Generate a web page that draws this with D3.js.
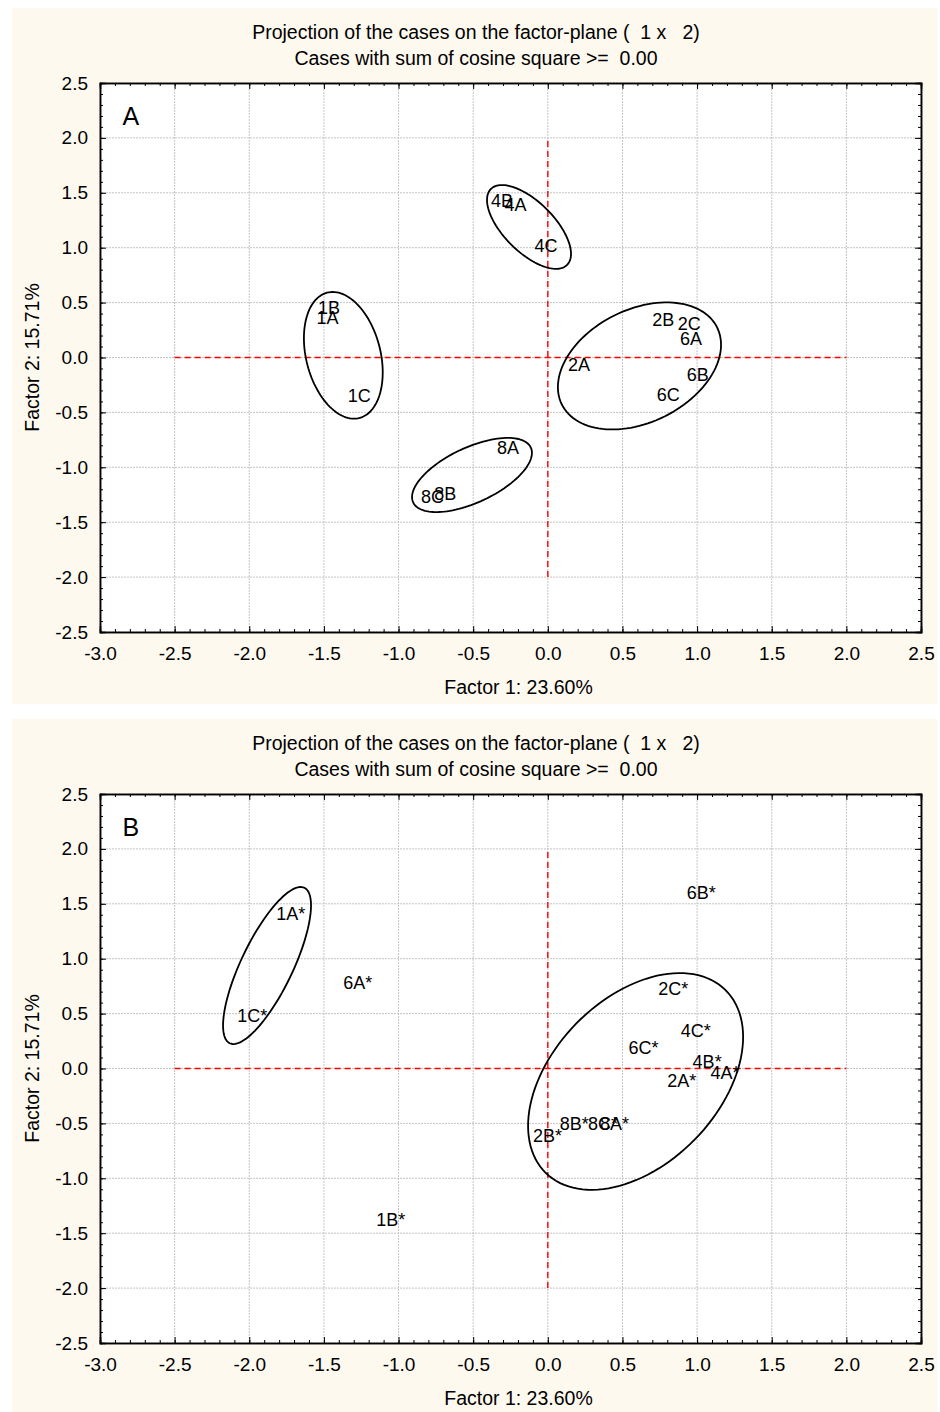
<!DOCTYPE html>
<html>
<head>
<meta charset="utf-8">
<script src="https://cdn.jsdelivr.net/npm/d3@7"></script>
<style>
  body { margin: 0; background: #fff; }
  svg { display: block; }
  text { font-family: "Liberation Sans", Arial, sans-serif; fill: #000; }
</style>
</head>
<body>
<div id="chart"></div>
<script>
'use strict';
//tick values and texts
const xTicks = [-3.0, -2.5, -2.0, -1.5, -1.0, -0.5, 0.0, 0.5, 1.0, 1.5, 2.0, 2.5];
const yTicks = [-2.5, -2.0, -1.5, -1.0, -0.5, 0.0, 0.5, 1.0, 1.5, 2.0, 2.5];
const titleLine1 = "Projection of the cases on the factor-plane (  1 x   2)";
const titleLine2 = "Cases with sum of cosine square >=  0.00";
const xLabel = "Factor 1: 23.60%";
const yLabel = "Factor 2: 15.71%";

//panel A cases
const casesA = ["1A", "1B", "1C", "2A", "2B", "2C", "4A", "4B", "4C", "6A", "6B", "6C", "8A", "8B", "8C"];
const factor1A = [-1.55, -1.54, -1.34, 0.135, 0.70, 0.87, -0.29, -0.38, -0.09, 0.885, 0.93, 0.73, -0.34, -0.76, -0.85];
const factor2A = [0.36, 0.45, -0.35, -0.07, 0.34, 0.31, 1.39, 1.43, 1.02, 0.17, -0.16, -0.34, -0.82, -1.24, -1.27];

//panel B cases
const casesB = ["1A*", "1B*", "1C*", "2A*", "2B*", "2C*", "4A*", "4B*", "4C*", "6A*", "6B*", "6C*", "8A*", "8B*", "8C*"];
const factor1B = [-1.82, -1.15, -2.08, 0.80, -0.10, 0.74, 1.09, 0.97, 0.89, -1.37, 0.93, 0.54, 0.35, 0.08, 0.27];
const factor2B = [1.41, -1.38, 0.48, -0.11, -0.61, 0.73, -0.04, 0.06, 0.34, 0.78, 1.60, 0.19, -0.50, -0.50, -0.50];

//group ellipses: centre, end of one semi axis, end of the other semi axis
const ellipseCentreA = [[-1.37, 0.02], [-0.126, 1.189], [-0.508, -1.070], [0.614, -0.077]];
const ellipseMajorA = [[-1.26, -0.55], [0.129, 0.843], [-0.114, -0.820], [1.134, 0.274]];
const ellipseMinorA = [[-1.13, 0.11], [-0.007, 1.350], [-0.430, -1.297], [0.782, -0.537]];
const ellipseCentreB = [[-1.881, 0.938], [0.588, -0.118]];
const ellipseMajorB = [[-1.631, 1.646], [1.189, 0.716]];
const ellipseMinorB = [[-1.725, 0.836], [0.985, -0.646]];

//dashed red reference lines
const zeroLineH = [[-2.5, 0], [2.0, 0]];
const zeroLineV = [[0, -2.0], [0, 2.0]];

const margin = { left: 100, right: 19, top: 83, bottom: 80 };
const width = 940 - margin.left - margin.right;
const height = 632 - margin.top;
const panelShift = 711;

const svg = d3.select("#chart").append("svg")
    .attr("width", 940)
    .attr("height", 1412);

function drawPanel(offset, letter, cases, f1, f2, centres, majors, minors) {
    //cream background of the panel
    svg.append("rect")
        .attr("x", 12).attr("y", offset + 8)
        .attr("width", 925).attr("height", 696)
        .attr("fill", "#fdf9ef");

    const g = svg.append("g")
        .attr("transform", "translate(" + margin.left + "," + (margin.top + offset) + ")");

    const x = d3.scaleLinear().domain([-3.0, 2.5]).range([0, width]);
    const y = d3.scaleLinear().domain([-2.5, 2.5]).range([height, 0]);

    g.append("rect")
        .attr("width", width).attr("height", height)
        .attr("fill", "#fff");

    //dotted grid
    g.append("g").selectAll("line").data(xTicks).enter().append("line")
        .attr("x1", d => x(d)).attr("x2", d => x(d))
        .attr("y1", 0).attr("y2", height)
        .attr("stroke", "#c4c4c4").attr("stroke-dasharray", "2,1");
    g.append("g").selectAll("line").data(yTicks).enter().append("line")
        .attr("y1", d => y(d)).attr("y2", d => y(d))
        .attr("x1", 0).attr("x2", width)
        .attr("stroke", "#c4c4c4").attr("stroke-dasharray", "2,1");

    //red dashed zero lines
    const line = d3.line().x(d => x(d[0])).y(d => y(d[1]));
    [zeroLineH, zeroLineV].forEach(function(l) {
        g.append("path")
            .attr("d", line(l))
            .attr("fill", "none")
            .attr("stroke", "#ff0000")
            .attr("stroke-width", 1.4)
            .attr("stroke-dasharray", "6,4");
    });

    //ellipses round the groups
    const ring = d3.line().x(d => x(d[0])).y(d => y(d[1])).curve(d3.curveLinearClosed);
    centres.forEach(function(c, i) {
        const a = [majors[i][0] - c[0], majors[i][1] - c[1]];
        const b = [minors[i][0] - c[0], minors[i][1] - c[1]];
        const pts = d3.range(0, 2 * Math.PI, Math.PI / 60).map(function(t) {
            return [c[0] + a[0] * Math.cos(t) + b[0] * Math.sin(t),
                    c[1] + a[1] * Math.cos(t) + b[1] * Math.sin(t)];
        });
        g.append("path")
            .attr("d", ring(pts))
            .attr("fill", "none")
            .attr("stroke", "#000")
            .attr("stroke-width", 1.8);
    });

    //case labels
    g.append("g").selectAll("text").data(cases).enter().append("text")
        .attr("x", (d, i) => x(f1[i]))
        .attr("y", (d, i) => y(f2[i]))
        .attr("dy", "0.35em")
        .style("font-size", "18px")
        .text(d => d);

    //panel letter
    g.append("text")
        .attr("x", x(-2.85)).attr("y", y(2.2))
        .attr("dy", "0.35em")
        .style("font-size", "25px")
        .text(letter);

    const fmt = d => d.toFixed(1);
    const minorX = d3.range(-30, 26).map(d => d / 10);
    const minorY = d3.range(-25, 26).map(d => d / 10);

    //minor ticks on all sides
    g.append("g").attr("transform", "translate(0," + height + ")")
        .call(d3.axisBottom(x).tickValues(minorX).tickSize(-3).tickFormat(""));
    g.append("g")
        .call(d3.axisTop(x).tickValues(minorX).tickSize(-3).tickFormat(""));
    g.append("g")
        .call(d3.axisLeft(y).tickValues(minorY).tickSize(-3).tickFormat(""));
    g.append("g").attr("transform", "translate(" + width + ",0)")
        .call(d3.axisRight(y).tickValues(minorY).tickSize(-3).tickFormat(""));

    //major ticks and labels
    g.append("g").attr("transform", "translate(0," + height + ")")
        .call(d3.axisBottom(x).tickValues(xTicks).tickSize(-6).tickPadding(15).tickFormat(fmt));
    g.append("g")
        .call(d3.axisLeft(y).tickValues(yTicks).tickSize(-6).tickPadding(12).tickFormat(fmt));
    g.append("g")
        .call(d3.axisTop(x).tickValues(xTicks).tickSize(-6).tickFormat(""));
    g.append("g").attr("transform", "translate(" + width + ",0)")
        .call(d3.axisRight(y).tickValues(yTicks).tickSize(-6).tickFormat(""));

    g.selectAll(".domain").attr("stroke", "#000").attr("stroke-width", 1.5);
    g.selectAll(".tick line").attr("stroke", "#000");
    g.selectAll(".tick text").style("font-size", "19px").style("font-family", "Liberation Sans, Arial, sans-serif");

    //titles
    svg.append("text")
        .attr("x", 476).attr("y", offset + 39)
        .style("text-anchor", "middle").style("font-size", "19.5px").style("white-space", "pre")
        .text(titleLine1);
    svg.append("text")
        .attr("x", 476).attr("y", offset + 65)
        .style("text-anchor", "middle").style("font-size", "19.5px").style("white-space", "pre")
        .text(titleLine2);

    //axis titles
    g.append("text")
        .attr("transform", "translate(" + (width / 2 + 8) + "," + (height + 62) + ")")
        .style("text-anchor", "middle").style("font-size", "19.5px")
        .text(xLabel);
    g.append("text")
        .attr("transform", "rotate(-90)")
        .attr("y", -61)
        .attr("x", -height / 2)
        .style("text-anchor", "middle").style("font-size", "19.5px")
        .text(yLabel);
}

drawPanel(0, "A", casesA, factor1A, factor2A, ellipseCentreA, ellipseMajorA, ellipseMinorA);
drawPanel(panelShift, "B", casesB, factor1B, factor2B, ellipseCentreB, ellipseMajorB, ellipseMinorB);
</script>
</body>
</html>
